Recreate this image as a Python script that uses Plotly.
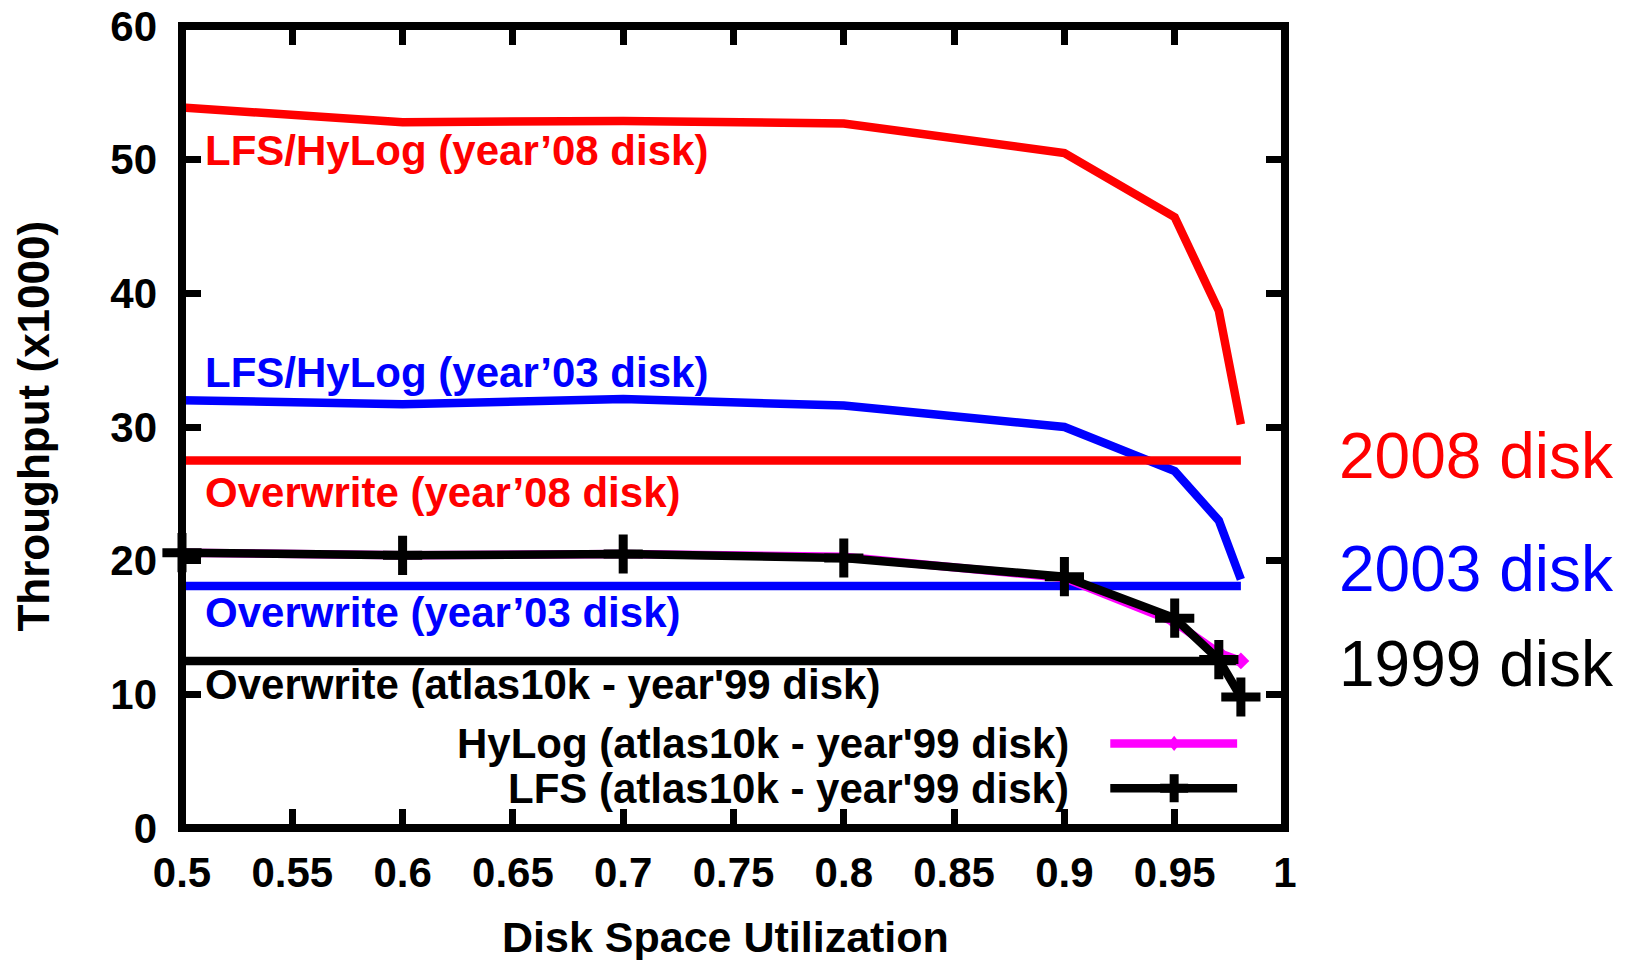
import plotly.graph_objects as go

# ---- data ----
utilization = [0.5, 0.6, 0.7, 0.8, 0.9, 0.95, 0.97, 0.98]
lfs_hylog_08 = [53.9, 52.8, 52.9, 52.7, 50.5, 45.7, 38.7, 30.2]
lfs_hylog_03 = [32.0, 31.7, 32.1, 31.6, 30.0, 26.7, 23.0, 18.6]
hylog_99 = [20.6, 20.4, 20.5, 20.3, 18.7, 15.4, 13.1, 12.5]
lfs_99 = [20.6, 20.4, 20.5, 20.2, 18.8, 15.7, 12.6, 9.8]
overwrite_x = [0.5, 0.98]
overwrite_08 = [27.5, 27.5]
overwrite_03 = [18.1, 18.1]
overwrite_99 = [12.5, 12.5]

x_ticks = [0.5, 0.55, 0.6, 0.65, 0.7, 0.75, 0.8, 0.85, 0.9, 0.95, 1.0]
x_tick_labels = ["0.5", "0.55", "0.6", "0.65", "0.7", "0.75", "0.8", "0.85", "0.9", "0.95", "1"]
y_ticks = [0, 10, 20, 30, 40, 50, 60]

RED = "#ff0000"
BLUE = "#0000ff"
BLACK = "#000000"
MAGENTA = "#ff00ff"
FONT = "Liberation Sans, Arial, Helvetica, sans-serif"
LW = 8.5

fig = go.Figure()

fig.add_trace(go.Scatter(x=utilization, y=lfs_hylog_08, mode="lines",
                         line=dict(color=RED, width=LW), cliponaxis=False))
fig.add_trace(go.Scatter(x=utilization, y=lfs_hylog_03, mode="lines",
                         line=dict(color=BLUE, width=LW), cliponaxis=False))
fig.add_trace(go.Scatter(x=overwrite_x, y=overwrite_08, mode="lines",
                         line=dict(color=RED, width=LW), cliponaxis=False))
fig.add_trace(go.Scatter(x=overwrite_x, y=overwrite_03, mode="lines",
                         line=dict(color=BLUE, width=LW), cliponaxis=False))
fig.add_trace(go.Scatter(x=overwrite_x, y=overwrite_99, mode="lines",
                         line=dict(color=BLACK, width=LW), cliponaxis=False))
fig.add_trace(go.Scatter(x=utilization, y=hylog_99, mode="lines+markers",
                         line=dict(color=MAGENTA, width=LW),
                         marker=dict(symbol="diamond", size=13, color=MAGENTA),
                         cliponaxis=False))
fig.add_trace(go.Scatter(x=utilization, y=lfs_99, mode="lines+markers",
                         line=dict(color=BLACK, width=LW),
                         marker=dict(symbol="cross-thin", size=28,
                                     line=dict(color=BLACK, width=9)),
                         cliponaxis=False))

# ---- in-plot labels ----
labels = [
    ("LFS/HyLog (year\u201908 disk)", 50.7, RED),
    ("LFS/HyLog (year\u201903 disk)", 34.1, BLUE),
    ("Overwrite (year\u201908 disk)", 25.1, RED),
    ("Overwrite (year\u201903 disk)", 16.1, BLUE),
    ("Overwrite (atlas10k - year'99 disk)", 10.7, BLACK),
]
for text, yv, col in labels:
    fig.add_annotation(x=0.019, xref="paper", y=yv, yref="y", text="<b>%s</b>" % text,
                       showarrow=False, xanchor="left", yanchor="middle",
                       font=dict(family=FONT, size=42, color=col))

# ---- right side labels ----
right_labels = [("2008 disk", 27.8, RED), ("2003 disk", 19.4, BLUE), ("1999 disk", 12.3, BLACK)]
for text, yv, col in right_labels:
    fig.add_annotation(x=1.047, xref="paper", y=yv, yref="y", text=text,
                       showarrow=False, xanchor="left", yanchor="middle",
                       font=dict(family=FONT, size=64, color=col))

# ---- axis titles ----
fig.add_annotation(x=-0.135, xref="paper", y=0.5007, yref="paper",
                   text="<b>Throughput (x1000)</b>", textangle=-90, showarrow=False,
                   xanchor="center", yanchor="middle",
                   font=dict(family=FONT, size=44, color=BLACK))
fig.add_annotation(x=0.493, xref="paper", y=-0.1363, yref="paper",
                   text="<b>Disk Space Utilization</b>", showarrow=False,
                   xanchor="center", yanchor="middle",
                   font=dict(family=FONT, size=43, color=BLACK))

# ---- frame (gnuplot border, centered on the data boundary) ----
fig.add_shape(type="rect", xref="paper", yref="paper", x0=0, x1=1, y0=0, y1=1,
              line=dict(color=BLACK, width=8), fillcolor="rgba(0,0,0,0)", layer="above")

# ---- manual legend (bottom right, gnuplot style) ----
leg_items = [("HyLog (atlas10k - year'99 disk)", 0.1054, MAGENTA),
             ("LFS (atlas10k - year'99 disk)", 0.0496, BLACK)]
for text, py, col in leg_items:
    fig.add_annotation(x=0.806, xref="paper", y=py, yref="paper", text="<b>%s</b>" % text,
                       showarrow=False, xanchor="right", yanchor="middle",
                       font=dict(family=FONT, size=42, color=BLACK))
    fig.add_shape(type="line", xref="paper", yref="paper", x0=0.8416, x1=0.9566,
                  y0=py, y1=py, line=dict(color=col, width=LW))
cx = 0.8995
my = leg_items[0][1]
fig.add_shape(type="path", xref="paper", yref="paper",
              path="M %f %f L %f %f L %f %f L %f %f Z" % (cx - 0.0055, my, cx, my + 0.0095,
                                                          cx + 0.0055, my, cx, my - 0.0095),
              fillcolor=MAGENTA, line=dict(width=0))
by = leg_items[1][1]
fig.add_shape(type="line", xref="paper", yref="paper", x0=cx, x1=cx,
              y0=by - 0.0175, y1=by + 0.0175, line=dict(color=BLACK, width=9))
fig.add_shape(type="line", xref="paper", yref="paper", x0=cx - 0.0127, x1=cx + 0.0127,
              y0=by, y1=by, line=dict(color=BLACK, width=9))

fig.update_layout(
    width=1632, height=960,
    margin=dict(l=182, r=347, t=26, b=132),
    paper_bgcolor="white", plot_bgcolor="white",
    showlegend=False,
    font=dict(family=FONT, color=BLACK),
    xaxis=dict(range=[0.5, 1.0], tickvals=x_ticks, ticktext=["<b>%s</b>" % t for t in x_tick_labels],
               showgrid=False, zeroline=False, showline=False,
               mirror="ticks", ticks="inside", ticklen=19, tickwidth=7, tickcolor=BLACK,
               tickfont=dict(family=FONT, size=42, color=BLACK), ticklabelstandoff=16,
               automargin=False),
    yaxis=dict(range=[0, 60], tickvals=y_ticks, ticktext=["<b>%d</b>" % t for t in y_ticks],
               showgrid=False, zeroline=False, showline=False,
               mirror="ticks", ticks="inside", ticklen=19, tickwidth=7, tickcolor=BLACK,
               tickfont=dict(family=FONT, size=42, color=BLACK), ticklabelstandoff=24,
               automargin=False),
)

fig.write_html("out.html")
